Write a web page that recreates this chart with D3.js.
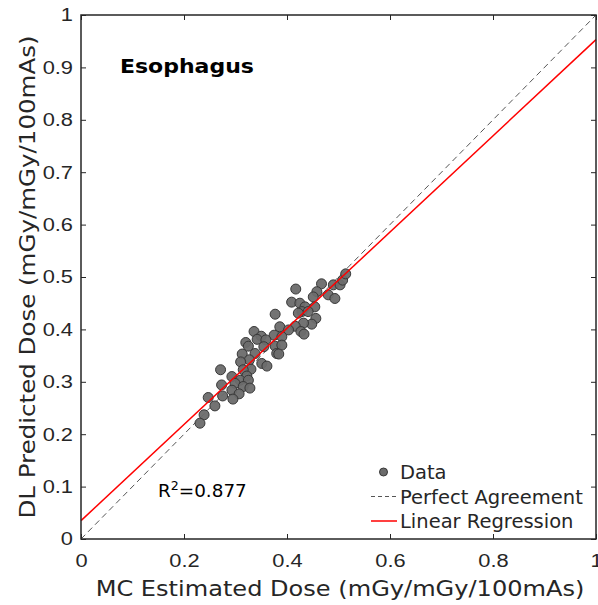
<!DOCTYPE html>
<html>
<head>
<meta charset="utf-8">
<script src="https://cdn.jsdelivr.net/npm/d3@7"></script>
<style>
  body { margin: 0; background: #fff; }
  svg { font-family: 'DejaVu Sans', sans-serif; }
</style>
</head>
<body>
<svg id="chart" width="598" height="605"></svg>
<script>
'use strict';

// MC estimated dose (x) vs DL predicted dose (y)
const mcDose = [
    0.417, 0.467, 0.458, 0.451, 0.480, 0.493, 0.490, 0.503, 0.508, 0.514,
    0.409, 0.425, 0.435, 0.454, 0.429, 0.441, 0.422, 0.377, 0.456, 0.448,
    0.432, 0.416, 0.386, 0.403, 0.427, 0.433, 0.336, 0.350, 0.375, 0.342,
    0.359, 0.390, 0.320, 0.325, 0.355, 0.377, 0.390, 0.338, 0.380, 0.384,
    0.313, 0.327, 0.310, 0.351, 0.361, 0.330, 0.271, 0.315, 0.293, 0.322,
    0.309, 0.325, 0.273, 0.299, 0.315, 0.328, 0.293, 0.307, 0.275, 0.247,
    0.295, 0.260, 0.239, 0.231
];
const dlDose = [
    0.477, 0.487, 0.472, 0.462, 0.466, 0.459, 0.485, 0.485, 0.494, 0.506,
    0.452, 0.450, 0.443, 0.443, 0.434, 0.434, 0.431, 0.429, 0.421, 0.410,
    0.412, 0.406, 0.405, 0.399, 0.396, 0.391, 0.396, 0.387, 0.389, 0.381,
    0.380, 0.386, 0.375, 0.368, 0.367, 0.368, 0.370, 0.354, 0.354, 0.353,
    0.353, 0.342, 0.338, 0.335, 0.330, 0.324, 0.323, 0.323, 0.310, 0.311,
    0.303, 0.303, 0.294, 0.297, 0.291, 0.288, 0.284, 0.277, 0.273, 0.270,
    0.267, 0.254, 0.237, 0.221
];
const xTicks = [0, 0.2, 0.4, 0.6, 0.8, 1];
const yTicks = [0, 0.1, 0.2, 0.3, 0.4, 0.5, 0.6, 0.7, 0.8, 0.9, 1];
const fitLine = { intercept: 0.035, slope: 0.918 };
const rSquared = '0.877';
const organ = 'Esophagus';
const legendLabels = ['Data', 'Perfect Agreement', 'Linear Regression'];

const margin = { left: 81, top: 15, right: 2, bottom: 66 };
const width = 598 - margin.left - margin.right;
const height = 605 - margin.top - margin.bottom;
const AXIS = '#262626';
const TICK_SX = 1.18;   // the reference glyphs are a bit wider than DejaVu

const svg = d3.select('#chart');
const g = svg.append('g').attr('transform', `translate(${margin.left},${margin.top})`);

const x = d3.scaleLinear().domain([0, 1]).range([0, width]);
const y = d3.scaleLinear().domain([0, 1]).range([height, 0]);

// text with a horizontal stretch
function label(parent, px, py, sx, size, str) {
    return parent.append('text')
        .attr('transform', `translate(${px},${py}) scale(${sx},1)`)
        .style('font-size', size + 'px').attr('fill', AXIS).text(str);
}

function styleAxis(sel) {
    sel.select('.domain').remove();
    sel.selectAll('.tick line').attr('stroke', AXIS).attr('stroke-width', 1);
    sel.selectAll('.tick text').attr('fill', AXIS).style('font-size', '18.5px');
}

// axes, ticks pointing inward, on all four sides
g.append('g').attr('transform', `translate(0,${height})`)
    .call(d3.axisBottom(x).tickValues(xTicks).tickFormat(String).tickSizeInner(-5).tickPadding(0))
    .call(styleAxis)
    .selectAll('.tick text')
    .attr('dy', null).attr('y', 28)
    .attr('transform', `scale(${TICK_SX},1)`);
g.append('g')
    .call(d3.axisLeft(y).tickValues(yTicks).tickFormat(String).tickSizeInner(-5).tickPadding(0))
    .call(styleAxis)
    .selectAll('.tick text')
    .attr('x', -8 / TICK_SX)
    .attr('transform', `scale(${TICK_SX},1)`);
g.append('g')
    .call(d3.axisTop(x).tickValues(xTicks).tickFormat('').tickSizeInner(-5))
    .call(styleAxis);
g.append('g').attr('transform', `translate(${width},0)`)
    .call(d3.axisRight(y).tickValues(yTicks).tickFormat('').tickSizeInner(-5))
    .call(styleAxis);

// perfect agreement
g.append('line')
    .attr('x1', x(0)).attr('y1', y(0)).attr('x2', x(1)).attr('y2', y(1))
    .attr('stroke', '#555').attr('stroke-width', 1).attr('stroke-dasharray', '6,4');

// points
g.append('g').selectAll('circle')
    .data(mcDose.map((d, i) => ({ x: d, y: dlDose[i] })))
    .enter().append('circle')
    .attr('cx', (d) => x(d.x)).attr('cy', (d) => y(d.y)).attr('r', 5)
    .attr('fill', '#6b6b6b').attr('stroke', '#383838').attr('stroke-width', 1)
    .attr('fill-opacity', 0.95);

// regression
g.append('line')
    .attr('x1', x(0)).attr('y1', y(fitLine.intercept))
    .attr('x2', x(1)).attr('y2', y(fitLine.intercept + fitLine.slope))
    .attr('stroke', '#ff0000').attr('stroke-width', 1.5);

// box
g.append('rect').attr('width', width).attr('height', height)
    .attr('fill', 'none').attr('stroke', AXIS).attr('stroke-width', 1.5);

// organ name and R^2
label(svg, 120, 73, 1.1, 20, organ)
    .style('font-weight', 'bold').attr('fill', '#000');

const r2 = label(svg, 158, 497, 1.05, 17.5, '').attr('fill', '#000');
r2.append('tspan').text('R');
r2.append('tspan').attr('dy', -7).style('font-size', '12px').text('2');
r2.append('tspan').attr('dy', 7).text('=' + rSquared);

// legend
const legend = svg.append('g').attr('transform', 'translate(371,472)');
legendLabels.forEach((text, i) => {
    const row = legend.append('g').attr('transform', `translate(0,${i * 24.5})`);
    if (i === 0) {
        row.append('circle').attr('cx', 12.5).attr('cy', 0).attr('r', 4)
            .attr('fill', '#6b6b6b').attr('stroke', '#383838');
    } else if (i === 1) {
        row.append('line').attr('x1', 0).attr('x2', 26).attr('stroke', '#555')
            .attr('stroke-dasharray', '4,3');
    } else {
        row.append('line').attr('x1', 0).attr('x2', 26).attr('stroke', '#ff0000')
            .attr('stroke-width', 1.5);
    }
    label(row, 29, 7, 1, 19.5, text);
});

// axis titles
label(svg, 340, 596, 1.12, 21.5, 'MC Estimated Dose (mGy/mGy/100mAs)')
    .attr('text-anchor', 'middle');
svg.append('text')
    .attr('transform', `translate(35,${margin.top + height / 2}) rotate(-90) scale(1.14,1)`)
    .attr('text-anchor', 'middle').style('font-size', '21.5px').attr('fill', AXIS)
    .text('DL Predicted Dose (mGy/mGy/100mAs)');
</script>
</body>
</html>
